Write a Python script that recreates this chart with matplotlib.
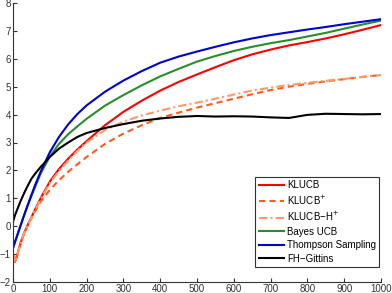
import numpy as np
import matplotlib.pyplot as plt

plt.rcParams["font.family"] = ["Liberation Sans", "DejaVu Sans"]

# horizon (time steps)
t = [0, 5, 10, 20, 30, 40, 50, 60, 75, 100, 125, 150, 175, 200, 250, 300,
     350, 400, 450, 500, 550, 600, 650, 700, 750, 800, 850, 900, 950, 1000]

klucb = [-1.0, -1.28, -1.1, -0.62, -0.25, 0.05, 0.32, 0.6, 1.0, 1.6, 2.05,
         2.42, 2.75, 3.05, 3.62, 4.1, 4.5, 4.86, 5.17, 5.44, 5.7, 5.95,
         6.16, 6.33, 6.48, 6.6, 6.73, 6.88, 7.04, 7.21]
klucb_plus = [-1.0, -1.3, -1.12, -0.64, -0.27, 0.02, 0.28, 0.53, 0.88, 1.3,
              1.65, 1.95, 2.22, 2.48, 2.95, 3.32, 3.62, 3.88, 4.07, 4.25,
              4.41, 4.57, 4.73, 4.88, 5.0, 5.1, 5.19, 5.27, 5.35, 5.42]
klucb_h_plus = [-1.0, -1.3, -1.12, -0.63, -0.26, 0.04, 0.3, 0.57, 0.96, 1.55,
                1.98, 2.35, 2.7, 3.0, 3.45, 3.75, 3.97, 4.14, 4.3, 4.43, 4.57,
                4.72, 4.86, 4.97, 5.06, 5.14, 5.21, 5.28, 5.35, 5.42]
bayes_ucb = [-0.78, -0.58, -0.39, 0.0, 0.38, 0.74, 1.08, 1.4, 1.88, 2.5,
             2.95, 3.3, 3.58, 3.85, 4.32, 4.7, 5.05, 5.37, 5.64, 5.9, 6.1,
             6.28, 6.43, 6.56, 6.67, 6.8, 6.93, 7.08, 7.23, 7.37]
thompson = [-0.78, -0.58, -0.39, 0.0, 0.39, 0.76, 1.12, 1.47, 1.95, 2.65,
            3.2, 3.65, 4.02, 4.33, 4.82, 5.22, 5.56, 5.86, 6.08, 6.26, 6.43,
            6.59, 6.73, 6.85, 6.95, 7.05, 7.14, 7.24, 7.33, 7.42]
fh_gittins = [0.16, 0.38, 0.55, 0.88, 1.18, 1.45, 1.7, 1.88, 2.12, 2.48,
              2.78, 3.0, 3.2, 3.34, 3.52, 3.66, 3.78, 3.86, 3.92, 3.95, 3.93,
              3.94, 3.93, 3.9, 3.88, 3.99, 4.03, 4.02, 4.01, 4.02]

fig = plt.figure(figsize=(3.92, 2.93), dpi=100)
ax = fig.add_axes([13 / 392, 11 / 293, 368 / 392, 279 / 293])

lw = 1.5
ax.plot(t, klucb, color="#ff0000", lw=lw, label="KLUCB")
ax.plot(t, klucb_plus, color="#ff5a1f", lw=lw, ls=(0, (3, 2)), label="KLUCB$^{+}$")
ax.plot(t, klucb_h_plus, color="#ff9a6a", lw=lw, ls=(0, (4, 1.5, 1, 1.5)),
        label="KLUCB\u2212H$^{+}$")
ax.plot(t, bayes_ucb, color="#2a8c2a", lw=lw, label="Bayes UCB")
ax.plot(t, thompson, color="#0000d0", lw=lw, label="Thompson Sampling")
ax.plot(t, fh_gittins, color="#000000", lw=lw, label="FH\u2212Gittins")

ax.set_xlim(0, 1000)
ax.set_ylim(-2, 8)
ax.set_xticks(np.arange(0, 1001, 100))
ax.set_yticks(np.arange(-2, 9, 1))
for s in ["top", "right"]:
    ax.spines[s].set_visible(False)
for s in ["left", "bottom"]:
    ax.spines[s].set_color("#333333")
    ax.spines[s].set_linewidth(0.8)
ax.tick_params(direction="in", length=3, width=0.8, color="#333333",
               labelsize=7, labelcolor="#333333", pad=1.5)

leg = ax.legend(loc="lower right", bbox_to_anchor=(0.995, 0.054), fontsize=7,
                handlelength=2.6, fancybox=False, framealpha=1, borderpad=0.35,
                labelspacing=0.35, handletextpad=0.3, borderaxespad=0)
leg.get_frame().set_edgecolor("#333333")
leg.get_frame().set_linewidth(0.8)

fig.savefig("out.png", dpi=100)
